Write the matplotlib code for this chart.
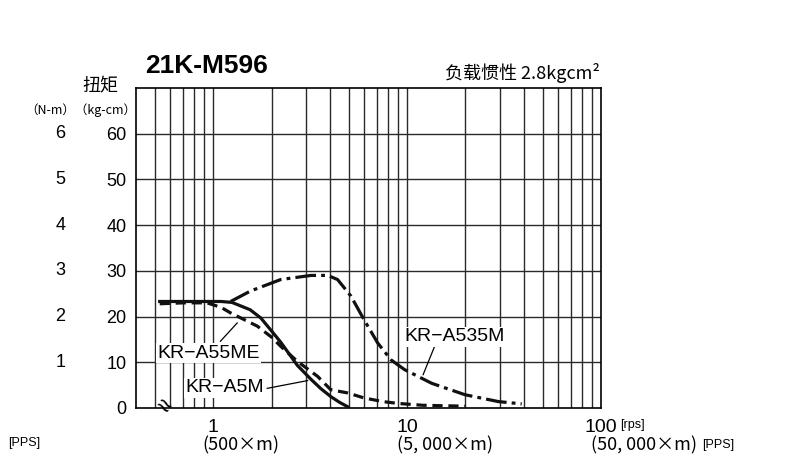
import matplotlib
matplotlib.use("Agg")
import matplotlib.pyplot as plt
from matplotlib.ticker import FixedLocator, NullFormatter
import matplotlib.transforms as mtransforms

# speed [rps] vs torque [kg-cm]
a5m_x = [0.53, 0.8, 1.1, 1.25, 1.55, 1.76, 2.05, 2.23, 2.72, 3.19, 3.6, 4.04, 4.5, 4.93]
a5m_y = [23.3, 23.3, 23.3, 23.1, 21.5, 19.7, 16.3, 14.4, 9.3, 6.3, 4.2, 2.5, 1.2, 0.3]

a55me_x = [0.53, 0.7, 0.93, 1.1, 1.23, 1.45, 1.69, 2.0, 2.23, 2.72, 3.46, 4.04, 4.93, 6.0, 7.5, 9.0, 12, 15, 20]
a55me_y = [22.8, 23.0, 23.0, 22.0, 20.8, 19.3, 17.9, 15.5, 13.5, 10.2, 6.9, 4.0, 3.3, 2.2, 1.4, 1.0, 0.6, 0.5, 0.4]

a535m_x = [1.23, 1.56, 2.23, 3.19, 3.9, 4.38, 5.13, 6.0, 7.06, 8.28, 9.7, 13.4, 19.9, 29.6, 39]
a535m_y = [23.3, 25.6, 28.1, 29.0, 29.0, 28.1, 24.5, 19.3, 14.2, 10.5, 8.4, 5.4, 2.9, 1.4, 0.9]

kgcm_ticks = [0, 10, 20, 30, 40, 50, 60]
nm_ticks = [1, 2, 3, 4, 5, 6]
x_ticks = [1, 10, 100]
x_sub = ["(500×m)", "(5, 000×m)", "(50, 000×m)"]

latin = ["Liberation Sans", "DejaVu Sans"]
cjk = ["Noto Sans CJK SC", "DejaVu Sans"]
plt.rcParams["font.family"] = latin

W, H = 797, 467
fig = plt.figure(figsize=(W / 100, H / 100), dpi=100)
ax = fig.add_axes([136 / W, 1 - 408 / H, 465 / W, 320 / H])

def px(x, y):
    return x / W, 1 - y / H

ax.set_xscale("log")
ax.set_xlim(0.4, 100)
ax.set_ylim(0, 70)

# grid
grid_x = [0.5, 0.6, 0.7, 0.8, 0.9] + list(range(1, 10)) + list(range(10, 100, 10))
for g in grid_x:
    ax.axvline(g, color="#2a2a2a", lw=1.0, zorder=1)
for g in range(10, 70, 10):
    ax.axhline(g, color="#2a2a2a", lw=1.0, zorder=1)
for s in ax.spines.values():
    s.set_linewidth(1.2)
    s.set_color("black")

ax.xaxis.set_major_locator(FixedLocator(x_ticks))
ax.set_xticklabels([str(v) for v in x_ticks], fontsize=14)
ax.xaxis.set_minor_formatter(NullFormatter())
ax.tick_params(axis="x", which="both", length=0, pad=8)
ax.set_yticks(kgcm_ticks)
ax.set_yticklabels([str(v) for v in kgcm_ticks], fontsize=13)
ax.tick_params(axis="y", length=0, pad=7)

# curves
ax.plot(a5m_x, a5m_y, color="#111111", lw=2.3, zorder=3)
ax.plot(a55me_x, a55me_y, color="#111111", lw=2.3, dashes=(3.2, 1.8), zorder=3)
ax.plot(a535m_x, a535m_y, color="#111111", lw=2.3, dashes=(6.5, 1.6, 1.2, 1.6), zorder=3)

# curve labels with leader lines
box = dict(facecolor="white", edgecolor="none", pad=1)
ax.plot([1.09, 1.33], [14.6, 18.6], color="black", lw=0.9, zorder=4)
ax.text(0.95, 12.0, "KR−A55ME", fontsize=14, ha="center", va="center", bbox=box, zorder=5)
ax.plot([1.9, 3.07], [4.3, 6.0], color="black", lw=0.9, zorder=4)
ax.text(1.14, 4.4, "KR−A5M", fontsize=14, ha="center", va="center", bbox=box, zorder=5)
ax.plot([13.9, 12.1], [13.6, 7.3], color="black", lw=0.9, zorder=4)
ax.text(17.5, 15.6, "KR−A535M", fontsize=14, ha="center", va="center", bbox=box, zorder=5)

# axis break mark
ax.text(0.55, 0.4, "≈", fontsize=18, rotation=-35, ha="center", va="center", zorder=6)

# N-m scale
tr = mtransforms.blended_transform_factory(ax.transAxes, ax.transData)
for v in nm_ticks:
    ax.text(-0.163, v * 10, str(v), transform=tr, fontsize=13, ha="center", va="center")

# second line of x labels
for v, s in zip(x_ticks, x_sub):
    ax.annotate(s, xy=(v, 0), xycoords=("data", "axes fraction"), xytext=(-7.5, -26.6),
                textcoords="offset points", ha="left", va="center", fontsize=13, family=cjk)
ax.annotate("[rps]", xy=(100, 0), xycoords=("data", "axes fraction"), xytext=(13.5, -12.5),
            textcoords="offset points", ha="left", va="center", fontsize=9)
ax.annotate("[PPS]", xy=(100, 0), xycoords=("data", "axes fraction"), xytext=(73, -26.6),
            textcoords="offset points", ha="left", va="center", fontsize=9)
fig.text(*px(8, 443), "[PPS]", fontsize=9, ha="left", va="center")

# header texts
fig.text(*px(145, 66), "21K-M596", fontsize=19, fontweight="bold", ha="left", va="center")
fig.text(*px(600, 73), "负载惯性 2.8kgcm²", fontsize=13, ha="right", va="center", family=cjk)
fig.text(*px(100, 86), "扭矩", fontsize=13, ha="center", va="center", family=cjk)
fig.text(*px(136, 110), "（N-m）（kg-cm）", fontsize=9, ha="right", va="center", family=cjk)

fig.savefig("out.png", dpi=100)
